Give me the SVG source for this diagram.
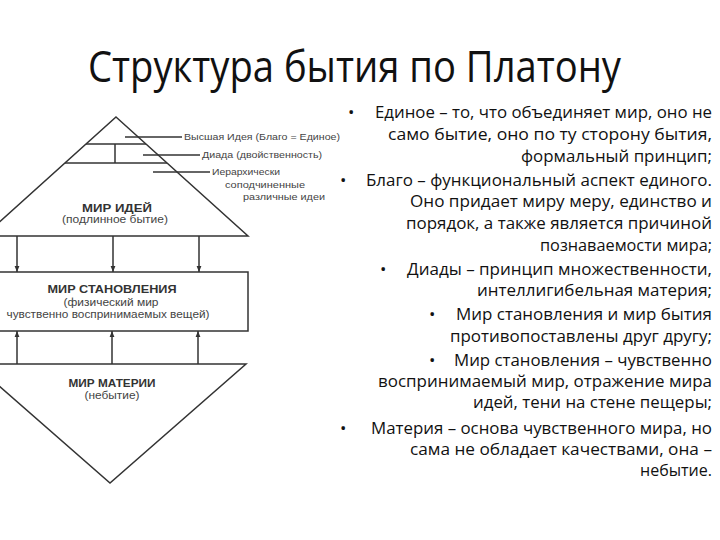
<svg xmlns="http://www.w3.org/2000/svg" width="720" height="540" viewBox="0 0 720 540">
<defs>
<style>
.ln{stroke:#333;stroke-width:1.5;fill:none}
.sh{stroke:#333;stroke-width:1.5;fill:#fff}
.sm{font-family:"Liberation Sans",Arial,sans-serif;font-size:9.5px;fill:#444}
.bd{font-family:"Liberation Sans",Arial,sans-serif;font-size:11px;font-weight:bold;fill:#333;text-anchor:middle}
.md{font-family:"Liberation Sans",Arial,sans-serif;font-size:10px;fill:#444;text-anchor:middle}
.tx{font-family:"Open Sans","Liberation Sans",sans-serif;font-size:17px;fill:#111}
.ti{font-family:"Open Sans","Liberation Sans",sans-serif;font-size:44px;fill:#111}
</style>
<marker id="ah" viewBox="0 0 10 10" refX="10" refY="5" markerWidth="6" markerHeight="6" orient="auto" markerUnits="userSpaceOnUse">
<path d="M0,1 L10,5 L0,9 Z" fill="#333"/>
</marker>
</defs>
<rect width="720" height="540" fill="#fff"/>
<text class="ti" x="88" y="82" textLength="533" lengthAdjust="spacingAndGlyphs">Структура бытия по Платону</text>

<g id="world-ideas">
<polygon class="sh" points="116,117 248,236 -16,236"/>
<line class="ln" x1="86" y1="144" x2="146" y2="144"/>
<line class="ln" x1="65" y1="163" x2="167" y2="163"/>
<line class="ln" x1="115" y1="144" x2="115" y2="163"/>
<text class="bd" x="117" y="212" textLength="70" lengthAdjust="spacingAndGlyphs">МИР ИДЕЙ</text>
<text class="md" x="115" y="223" textLength="106" lengthAdjust="spacingAndGlyphs">(подлинное бытие)</text>
</g>

<g id="labels">
<line class="ln" x1="125" y1="137" x2="182" y2="137" stroke-width="1"/>
<text class="sm" x="184" y="140" textLength="156" lengthAdjust="spacingAndGlyphs">Высшая Идея (Благо = Единое)</text>
<line class="ln" x1="143" y1="155" x2="200" y2="155" stroke-width="1"/>
<text class="sm" x="202" y="158" textLength="120" lengthAdjust="spacingAndGlyphs">Диада (двойственность)</text>
<line class="ln" x1="153" y1="172" x2="210" y2="172" stroke-width="1"/>
<text class="sm" x="212" y="175" textLength="68" lengthAdjust="spacingAndGlyphs">Иерархически</text>
<text class="sm" x="225" y="188" textLength="80" lengthAdjust="spacingAndGlyphs">соподчиненные</text>
<text class="sm" x="243" y="200" textLength="82" lengthAdjust="spacingAndGlyphs">различные идеи</text>
</g>

<g id="world-becoming">
<rect class="sh" x="-2" y="272" width="250" height="59"/>
<text class="bd" x="112" y="293" textLength="129" lengthAdjust="spacingAndGlyphs">МИР СТАНОВЛЕНИЯ</text>
<text class="md" x="111" y="306" textLength="95" lengthAdjust="spacingAndGlyphs">(физический мир</text>
<text class="md" x="108" y="318" textLength="203" lengthAdjust="spacingAndGlyphs">чувственно воспринимаемых вещей)</text>
</g>

<g id="world-matter">
<polygon class="sh" points="-26,364 246,364 110,483"/>
<text class="bd" x="112" y="387" textLength="87" lengthAdjust="spacingAndGlyphs">МИР МАТЕРИИ</text>
<text class="md" x="112" y="399" textLength="55" lengthAdjust="spacingAndGlyphs">(небытие)</text>
</g>

<g id="connectors">
<line class="ln" x1="17" y1="236" x2="17" y2="272" marker-end="url(#ah)"/>
<line class="ln" x1="113" y1="236" x2="113" y2="272" marker-end="url(#ah)"/>
<line class="ln" x1="199" y1="236" x2="199" y2="272" marker-end="url(#ah)"/>
<line class="ln" x1="17" y1="364" x2="17" y2="331" marker-end="url(#ah)"/>
<line class="ln" x1="112" y1="364" x2="112" y2="331" marker-end="url(#ah)"/>
<line class="ln" x1="198" y1="364" x2="198" y2="331" marker-end="url(#ah)"/>
</g>

<g id="notes">
<text class="tx" x="348" y="118">•</text>
<text class="tx" x="375" y="118" textLength="337" lengthAdjust="spacingAndGlyphs">Единое – то, что объединяет мир, оно не</text>
<text class="tx" x="388" y="140" textLength="324" lengthAdjust="spacingAndGlyphs">само бытие, оно по ту сторону бытия,</text>
<text class="tx" x="521" y="162" textLength="191" lengthAdjust="spacingAndGlyphs">формальный принцип;</text>
<text class="tx" x="340" y="186">•</text>
<text class="tx" x="366" y="186" textLength="346" lengthAdjust="spacingAndGlyphs">Благо – функциональный аспект единого.</text>
<text class="tx" x="410" y="207" textLength="302" lengthAdjust="spacingAndGlyphs">Оно придает миру меру, единство и</text>
<text class="tx" x="406" y="229" textLength="306" lengthAdjust="spacingAndGlyphs">порядок, а также является причиной</text>
<text class="tx" x="540" y="251" textLength="172" lengthAdjust="spacingAndGlyphs">познаваемости мира;</text>
<text class="tx" x="380" y="275">•</text>
<text class="tx" x="407" y="275" textLength="305" lengthAdjust="spacingAndGlyphs">Диады – принцип множественности,</text>
<text class="tx" x="477" y="296" textLength="235" lengthAdjust="spacingAndGlyphs">интеллигибельная материя;</text>
<text class="tx" x="429" y="320">•</text>
<text class="tx" x="456" y="320" textLength="256" lengthAdjust="spacingAndGlyphs">Мир становления и мир бытия</text>
<text class="tx" x="450" y="342" textLength="262" lengthAdjust="spacingAndGlyphs">противопоставлены друг другу;</text>
<text class="tx" x="429" y="366">•</text>
<text class="tx" x="454" y="366" textLength="258" lengthAdjust="spacingAndGlyphs">Мир становления – чувственно</text>
<text class="tx" x="378" y="387" textLength="334" lengthAdjust="spacingAndGlyphs">воспринимаемый мир, отражение мира</text>
<text class="tx" x="473" y="408" textLength="239" lengthAdjust="spacingAndGlyphs">идей, тени на стене пещеры;</text>
<text class="tx" x="340" y="434">•</text>
<text class="tx" x="371" y="434" textLength="341" lengthAdjust="spacingAndGlyphs">Материя – основа чувственного мира, но</text>
<text class="tx" x="410" y="455" textLength="302" lengthAdjust="spacingAndGlyphs">сама не обладает качествами, она –</text>
<text class="tx" x="640" y="476" textLength="72" lengthAdjust="spacingAndGlyphs">небытие.</text>
</g>
</svg>
